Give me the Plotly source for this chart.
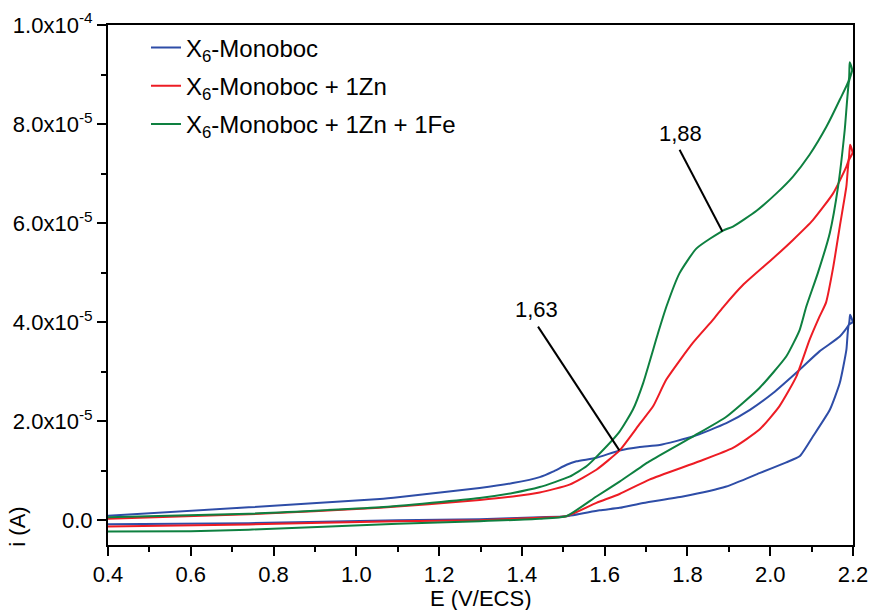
import plotly.graph_objects as go

# ---------------- data (current in units of 1e-5 A) ----------------
E_blue = [0.40, 0.74, 1.057, 1.106, 1.298, 1.378, 1.443, 1.475, 1.508, 1.532, 1.58, 1.636, 1.685,
          1.733, 1.813, 1.894, 1.951, 2.007, 2.071, 2.119, 2.168, 2.19, 2.193, 2.199, 2.19,
          2.184, 2.168, 2.144, 2.103, 2.071, 2.039, 1.974, 1.894, 1.789, 1.693, 1.636, 1.588,
          1.507, 1.443, 1.298, 1.10, 0.74, 0.40]
I_blue = [0.09, 0.26, 0.43, 0.47, 0.65, 0.75, 0.87, 0.98, 1.12, 1.19, 1.26, 1.41, 1.48,
          1.52, 1.69, 1.96, 2.23, 2.57, 3.04, 3.41, 3.71, 3.95, 4.15, 4.00, 3.95,
          3.44, 2.77, 2.23, 1.69, 1.29, 1.17, 0.95, 0.68, 0.48, 0.35, 0.25, 0.20,
          0.08, 0.06, 0.02, 0.00, -0.06, -0.08]

E_red = [0.40, 0.74, 1.057, 1.298, 1.378, 1.443, 1.515, 1.58, 1.636, 1.685, 1.717, 1.749, 1.813,
         1.862, 1.886, 1.934, 2.007, 2.055, 2.103, 2.152, 2.184, 2.19, 2.193, 2.199, 2.19,
         2.184, 2.168, 2.152, 2.135, 2.119, 2.095, 2.063, 2.022, 1.974, 1.91, 1.829, 1.708,
         1.636, 1.58, 1.507, 1.443, 1.298, 1.10, 0.74, 0.40]
I_red = [0.03, 0.12, 0.25, 0.41, 0.48, 0.56, 0.72, 1.02, 1.41, 1.95, 2.30, 2.84, 3.58,
         4.05, 4.30, 4.75, 5.29, 5.66, 6.06, 6.60, 7.14, 7.30, 7.58, 7.42, 7.27,
         6.74, 5.93, 5.10, 4.40, 4.11, 3.64, 2.90, 2.30, 1.83, 1.46, 1.19, 0.82,
         0.53, 0.35, 0.08, 0.05, 0.00, -0.02, -0.085, -0.125]

E_green = [0.40, 0.74, 1.057, 1.298, 1.378, 1.443, 1.515, 1.556, 1.58, 1.636, 1.668, 1.693, 1.729,
           1.749, 1.781, 1.822, 1.886, 1.91, 1.967, 2.015, 2.055, 2.095, 2.136, 2.168, 2.19,
           2.192, 2.198, 2.19, 2.18, 2.164, 2.144, 2.115, 2.087, 2.071, 2.039, 1.974, 1.894,
           1.813, 1.708, 1.636, 1.58, 1.507, 1.443, 1.298, 1.10, 0.74, 0.60, 0.40]
I_green = [0.06, 0.13, 0.26, 0.45, 0.55, 0.67, 0.88, 1.09, 1.28, 1.79, 2.23, 2.77, 3.78,
           4.31, 4.99, 5.49, 5.85, 5.93, 6.25, 6.60, 6.94, 7.38, 7.95, 8.49, 8.89,
           9.25, 9.09, 8.85, 7.88, 6.74, 5.80, 4.99, 4.31, 3.84, 3.31, 2.67, 2.09,
           1.69, 1.19, 0.78, 0.48, 0.08, 0.03, -0.02, -0.07, -0.19, -0.22, -0.226]

names = ["X<sub>6</sub>-Monoboc",
         "X<sub>6</sub>-Monoboc + 1Zn",
         "X<sub>6</sub>-Monoboc + 1Zn + 1Fe"]
colors = ["#2E4DA7", "#ED1C24", "#0E8040"]

y_tickvals = [0, 2e-5, 4e-5, 6e-5, 8e-5, 1e-4]
y_ticktext = ["0.0", "2.0x10<sup>-5</sup>", "4.0x10<sup>-5</sup>", "6.0x10<sup>-5</sup>",
              "8.0x10<sup>-5</sup>", "1.0x10<sup>-4</sup>"]

# annotation callouts: (label, text_x, text_y, line_x0, line_y0, line_x1, line_y1)
callouts = [("1,63", 1.435, 4.25e-5, 1.439, 3.91e-5, 1.6355, 1.41e-5),
            ("1,88", 1.783, 7.80e-5, 1.781, 7.48e-5, 1.8845, 5.83e-5)]

SCALE = 1e-5
FONT = "Liberation Sans, Arial, sans-serif"

fig = go.Figure()
for i, (E, I) in enumerate([(E_blue, I_blue), (E_red, I_red), (E_green, I_green)]):
    fig.add_trace(go.Scatter(
        x=E, y=[v * SCALE for v in I], mode="lines", name=names[i],
        legendgroup=f"g{i}",
        line=dict(color=colors[i], width=2, shape="spline", smoothing=0.5),
    ))

for label, tx, ty, x0, y0, x1, y1 in callouts:
    fig.add_shape(type="line", x0=x0, y0=y0, x1=x1, y1=y1, xref="x", yref="y",
                  line=dict(color="black", width=2))
    fig.add_annotation(x=tx, y=ty, xref="x", yref="y", text=label, showarrow=False,
                       font=dict(size=22, color="black", family=FONT))

# axis titles as annotations
fig.add_annotation(x=0.5, y=-0.102, xref="paper", yref="paper", text="E (V/ECS)",
                   showarrow=False, yanchor="middle",
                   font=dict(size=22, color="black", family=FONT))
fig.add_annotation(x=-0.121, y=0.035, xref="paper", yref="paper", text="i (A)",
                   showarrow=False, textangle=-90, xanchor="center", yanchor="middle",
                   font=dict(size=22, color="black", family=FONT))

fig.update_layout(
    width=873, height=610,
    margin=dict(l=108, r=20, t=25, b=65, autoexpand=False),
    paper_bgcolor="white", plot_bgcolor="white",
    font=dict(family=FONT, size=22, color="black"),
    showlegend=True,
    legend=dict(x=0.051, y=0.999, xanchor="left", yanchor="top",
                bgcolor="rgba(0,0,0,0)", tracegroupgap=4,
                font=dict(size=24, family=FONT, color="black")),
)
fig.update_xaxes(range=[0.4, 2.2], dtick=0.2, tick0=0.4, tickformat=".1f",
                 automargin=False, ticklabeloverflow="allow",
                 showgrid=False, zeroline=False,
                 showline=True, linecolor="black", linewidth=2, mirror=True,
                 ticks="outside", ticklen=9, tickwidth=2, tickcolor="black",
                 minor=dict(dtick=0.1, ticks="outside", ticklen=5, tickwidth=2, tickcolor="black"),
                 tickfont=dict(size=22, family=FONT, color="black"))
fig.update_yaxes(range=[-5e-6, 1e-4], tickvals=y_tickvals, ticktext=y_ticktext,
                 automargin=False, ticklabeloverflow="allow",
                 showgrid=False, zeroline=False,
                 showline=True, linecolor="black", linewidth=2, mirror=True,
                 ticks="outside", ticklen=9, tickwidth=2, tickcolor="black",
                 minor=dict(tick0=0, dtick=1e-5, ticks="outside", ticklen=5, tickwidth=2, tickcolor="black"),
                 tickfont=dict(size=22, family=FONT, color="black"))

fig.write_html("out.html", config={"displayModeBar": False},
               post_script="document.body.style.margin='0';document.body.style.overflow='hidden';")
